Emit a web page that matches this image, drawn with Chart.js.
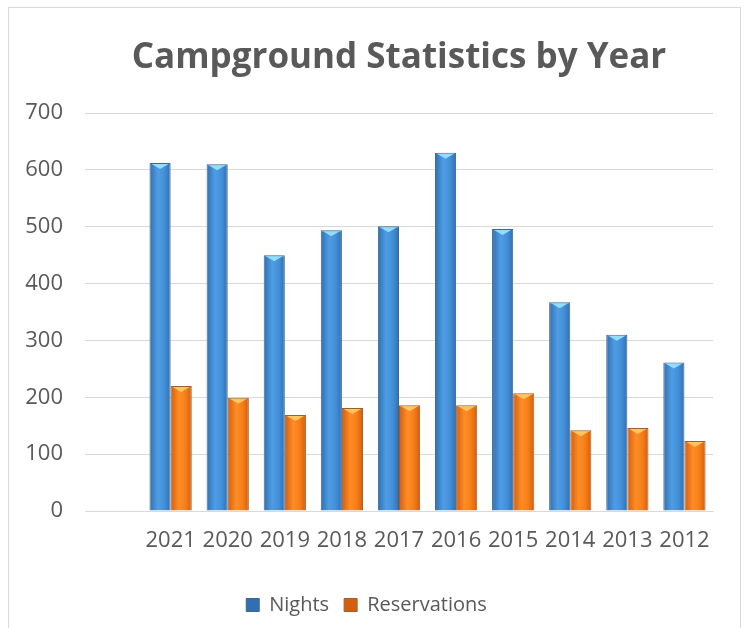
<!DOCTYPE html>
<html>
<head>
<meta charset="utf-8">
<script src="https://cdn.jsdelivr.net/npm/chart.js@4.4.1/dist/chart.umd.min.js"></script>
<style>
    body { margin: 0; background: #fff; }
    #frame {
        position: absolute; left: 8px; top: 7px;
        width: 733px; height: 640px;
        border: 1px solid #d9d9d9; box-sizing: border-box;
    }
    #wrap { position: absolute; left: 0; top: 0; width: 744px; height: 628px; }
</style>
</head>
<body>
<div id="frame"></div>
<div id="wrap"><canvas id="campChart"></canvas></div>
<script>
// chart data (first category is an empty slot, like the original sheet)
const years = ['', '2021', '2020', '2019', '2018', '2017', '2016', '2015', '2014', '2013', '2012'];
const nights = [null, 612, 610, 450, 494, 501, 630, 496, 367, 310, 261];
const reservations = [null, 220, 199, 169, 181, 186, 186, 207, 142, 146, 123];
const yTicks = [0, 100, 200, 300, 400, 500, 600, 700];

const chartTitle = 'Campground Statistics by Year';
const catPct = 0.74;
const textColor = '#595959';

// horizontal shading so the bars look like the old 3D columns
function shaded(dark, light, mid, flat) {
    return function(ctx) {
        const chart = ctx.chart;
        const xs = chart.scales.x;
        if (ctx.dataIndex === undefined || !xs || !xs.width) return flat;
        const catW = xs.width / years.length;
        const barW = catW * catPct / 2;
        const cx = xs.getPixelForValue(ctx.dataIndex) + (ctx.datasetIndex === 0 ? -barW / 2 : barW / 2);
        const g = chart.ctx.createLinearGradient(cx - barW / 2, 0, cx + barW / 2, 0);
        g.addColorStop(0, dark);
        g.addColorStop(0.4, light);
        g.addColorStop(0.7, mid);
        g.addColorStop(1, dark);
        return g;
    };
}

// little lighter chevron on top of each column
const capPlugin = {
    id: 'caps',
    afterDatasetsDraw(chart) {
        const c = chart.ctx;
        const caps = ['#93dcfa', '#ffc660'];
        chart.data.datasets.forEach((ds, di) => {
            chart.getDatasetMeta(di).data.forEach((bar, i) => {
                if (ds.data[i] == null) return;
                const w = bar.width;
                c.save();
                c.fillStyle = caps[di];
                c.beginPath();
                c.moveTo(bar.x - w / 2 + 2, bar.y + 1);
                c.lineTo(bar.x + w / 2 - 2, bar.y + 1);
                c.lineTo(bar.x, bar.y + 6);
                c.closePath();
                c.fill();
                c.restore();
            });
        });
    }
};

// title centred over the plot area, not over the whole canvas
const titlePlugin = {
    id: 'plotTitle',
    afterDraw(chart) {
        const c = chart.ctx;
        const a = chart.chartArea;
        c.save();
        c.fillStyle = textColor;
        c.font = 'bold 35px "Open Sans"';
        c.textAlign = 'center';
        c.textBaseline = 'middle';
        c.fillText(chartTitle, (a.left + a.right) / 2, 58);
        c.restore();
    }
};

const ctx = document.getElementById('campChart').getContext('2d');
const campChart = new Chart(ctx, {
    type: 'bar',
    data: {
        labels: years,
        datasets: [{
            label: 'Nights',
            data: nights,
            backgroundColor: shaded('#306fb2', '#4e9de4', '#4490d8', '#3d87cf'),
            borderColor: '#41648c',
            borderWidth: 1
        }, {
            label: 'Reservations',
            data: reservations,
            backgroundColor: shaded('#d25e0e', '#ff8d26', '#f77e18', '#ed7514'),
            borderColor: '#a05e30',
            borderWidth: 1
        }]
    },
    options: {
        responsive: true,
        maintainAspectRatio: false,
        animation: false,
        layout: { padding: { left: 20, right: 31, top: 113, bottom: 3 } },
        datasets: {
            bar: { categoryPercentage: catPct, barPercentage: 1 }
        },
        plugins: {
            title: { display: false },
            legend: {
                position: 'bottom',
                labels: {
                    color: textColor,
                    font: { family: 'Open Sans', size: 20 },
                    boxWidth: 13,
                    boxHeight: 13,
                    padding: 15
                }
            },
            tooltip: { enabled: false }
        },
        scales: {
            x: {
                grid: { display: false },
                border: { display: true, color: '#d9d9d9', width: 1 },
                ticks: {
                    color: textColor,
                    font: { family: 'Open Sans', size: 22 },
                    padding: 9,
                    maxRotation: 0,
                    autoSkip: false
                },
                afterFit(scale) { scale.height = 69; }
            },
            y: {
                min: 0,
                max: 700,
                afterBuildTicks(scale) { scale.ticks = yTicks.map(v => ({ value: v })); },
                grid: { color: '#d9d9d9', drawTicks: false },
                border: { display: false },
                ticks: {
                    color: textColor,
                    font: { family: 'Open Sans', size: 22 },
                    padding: 22
                },
                afterFit(scale) { scale.width = 65; }
            }
        }
    },
    plugins: [capPlugin, titlePlugin]
});
</script>
</body>
</html>
